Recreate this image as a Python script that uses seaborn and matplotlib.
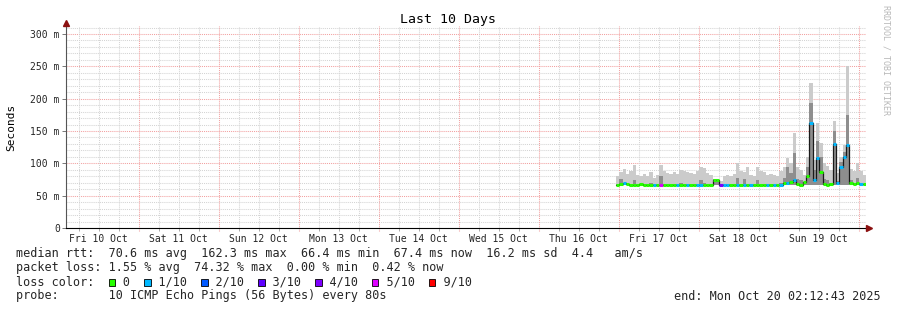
import numpy as np
import pandas as pd
import matplotlib
matplotlib.use("Agg")
import matplotlib.pyplot as plt
import matplotlib.dates as mdates
from matplotlib.patches import Rectangle
import seaborn as sns

# ---------------- data ----------------
END = pd.Timestamp("2025-10-20 02:12:43")
START = END - pd.Timedelta(days=10)
FIRST_BIN = pd.Timestamp("2025-10-16 23:12:43")   # hourly bins until END

median_ms = [67, 68, 69, 68, 67, 67, 67, 68, 67, 67,
             67, 67, 67, 67, 67, 67, 67, 67, 67, 67,
             67, 67, 67, 67, 67, 67, 67, 67, 67, 75,
             75, 67, 67, 67, 67, 67, 67, 67, 67, 67,
             67, 67, 67, 67, 67, 67, 67, 67, 67, 67,
             69, 70, 71, 74, 68, 67, 71, 80, 162, 74,
             108, 87, 68, 67, 68, 130, 70, 95, 110, 128,
             70, 68, 69, 68, 68]

rtt_min_ms = [66] * 75

smoke_mid_ms = [68, 76, 69, 68, 68, 74, 68, 68, 68, 68,
                69, 68, 68, 80, 68, 68, 68, 68, 68, 69,
                68, 68, 68, 68, 68, 74, 69, 68, 68, 76,
                76, 68, 68, 68, 68, 68, 78, 68, 76, 68,
                68, 68, 74, 68, 68, 68, 68, 68, 68, 70,
                78, 95, 85, 116, 76, 74, 70, 95, 193, 90,
                135, 110, 76, 74, 70, 150, 72, 102, 118, 175,
                74, 70, 78, 70, 68]

smoke_max_ms = [80, 87, 91, 84, 88, 97, 82, 80, 84, 80,
                87, 78, 82, 97, 88, 85, 84, 86, 83, 90,
                88, 87, 85, 84, 88, 95, 93, 85, 82, 76,
                76, 72, 80, 82, 80, 84, 100, 88, 86, 94,
                82, 80, 95, 88, 86, 82, 84, 82, 80, 88,
                95, 109, 100, 147, 95, 90, 82, 110, 225, 105,
                162, 131, 100, 96, 90, 166, 85, 110, 128, 250,
                92, 88, 100, 88, 82]

loss_of_10 = [0, 0, 1, 0, 0, 0, 0, 0, 0, 0,
              0, 1, 0, 5, 0, 0, 0, 0, 1, 0,
              0, 1, 0, 0, 1, 1, 0, 0, 0, 0,
              0, 4, 1, 1, 0, 0, 1, 0, 1, 0,
              1, 0, 0, 0, 0, 1, 0, 1, 0, 1,
              0, 1, 0, 1, 0, 0, 0, 0, 1, 1,
              1, 0, 0, 0, 0, 1, 1, 1, 1, 1,
              0, 0, 0, 1, 0]

loss_levels = [0, 1, 2, 3, 4, 5, 9]
loss_labels = ["0", "1/10", "2/10", "3/10", "4/10", "5/10", "9/10"]
loss_colors = ["#26ff00", "#00b8ff", "#0059ff", "#5e00ff", "#7e00ff", "#dd00ff", "#ff0000"]

y_ticks = [0, 50, 100, 150, 200, 250, 300]
y_ticklabels = ["0", "50 m", "100 m", "150 m", "200 m", "250 m", "300 m"]

stats_lines = [
    "median rtt:  70.6 ms avg  162.3 ms max  66.4 ms min  67.4 ms now  16.2 ms sd  4.4   am/s",
    "packet loss: 1.55 % avg  74.32 % max  0.00 % min  0.42 % now",
]
probe_text = "probe:       10 ICMP Echo Pings (56 Bytes) every 80s"
end_text = "end: Mon Oct 20 02:12:43 2025"

# ---------------- figure ----------------
sns.set_theme(style="white")
plt.rcParams["font.family"] = ["DejaVu Sans Mono", "DejaVu Sans"]

W, H = 897, 310
fig = plt.figure(figsize=(W / 100, H / 100), dpi=100)
fig.patch.set_facecolor("white")

ax_l, ax_r, ax_t, ax_b = 66, 866, 26, 228
ax = fig.add_axes([ax_l / W, 1 - ax_b / H, (ax_r - ax_l) / W, (ax_b - ax_t) / H])
ax.set_facecolor("white")

ymax = 312.4
ax.set_ylim(0, ymax)
x0 = mdates.date2num(START.to_pydatetime())
x1 = mdates.date2num(END.to_pydatetime())
ax.set_xlim(x0, x1)

# grid
for v in range(10, 320, 10):
    if v > ymax:
        break
    col = "#f2a0a0" if v % 50 == 0 else "#d4d4d4"
    ax.axhline(v, color=col, lw=0.75, ls=(0, (1, 1)), zorder=0)
for t in pd.date_range("2025-10-10 06:00", "2025-10-20 00:00", freq="6h"):
    xv = mdates.date2num(t.to_pydatetime())
    if t.hour == 0:
        ax.axvline(xv, ymin=-3 / 202, ymax=1, color="#f2a0a0", lw=0.75,
                   ls=(0, (1, 1)), zorder=0, clip_on=False)
    else:
        ax.axvline(xv, color="#d4d4d4", lw=0.75, ls=(0, (1, 1)), zorder=0)

# data
times = pd.date_range(FIRST_BIN, periods=len(median_ms), freq="h")
edges = times.append(pd.DatetimeIndex([times[-1] + pd.Timedelta(hours=1)]))
xe = mdates.date2num(edges.to_pydatetime())

def ext(a):
    return list(a) + [a[-1]]

ax.fill_between(xe, ext(rtt_min_ms), ext(smoke_max_ms), step="post",
                color="#cbcbcb", lw=0, zorder=2)
ax.fill_between(xe, ext(rtt_min_ms), ext(smoke_mid_ms), step="post",
                color="#8e8e8e", lw=0, zorder=3)

med_df = pd.DataFrame({"t": xe, "median": ext(median_ms)})
sns.lineplot(data=med_df, x="t", y="median", ax=ax, color="#1a1a1a", lw=0.9,
             drawstyle="steps-post", estimator=None, errorbar=None, zorder=4)

color_of = dict(zip(loss_levels, loss_colors))
seg_cols = [color_of[l] for l in loss_of_10]
ax.hlines(median_ms, xe[:-1], xe[1:], colors=seg_cols, lw=2.2, zorder=5,
          capstyle="butt")

# axes styling
ax.set_xlabel("")
ax.set_ylabel("")
for s in ["top", "right"]:
    ax.spines[s].set_visible(False)
ax.spines["left"].set_color("#555555")
ax.spines["left"].set_linewidth(0.8)
ax.spines["bottom"].set_color("#000000")
ax.spines["bottom"].set_linewidth(0.8)
ax.spines["left"].set_zorder(6)
ax.spines["bottom"].set_zorder(6)

ax.set_yticks(y_ticks)
ax.set_yticklabels(y_ticklabels)
ax.tick_params(axis="y", length=3, width=0.7, color="#777777", pad=1.5,
               labelsize=7, left=True)

ax.xaxis.set_major_locator(mdates.HourLocator(byhour=12))
ax.xaxis.set_major_formatter(mdates.DateFormatter("%a %d %b"))
ax.xaxis.set_minor_locator(mdates.HourLocator(byhour=[6, 18]))
ax.tick_params(axis="x", which="major", length=2, width=0.7, color="#aaaaaa",
               pad=2.5, labelsize=7, bottom=True)
ax.tick_params(axis="x", which="minor", length=2, width=0.7, color="#aaaaaa",
               bottom=True)
for lab in ax.get_xticklabels() + ax.get_yticklabels():
    lab.set_family("DejaVu Sans Mono")

# axis arrows
ax.plot([0], [1 + 3 / 202], marker="^", ms=4.5, color="#8b1010",
        transform=ax.transAxes, clip_on=False, zorder=7)
ax.plot([1 + 3 / 800], [0], marker=">", ms=4.5, color="#8b1010",
        transform=ax.transAxes, clip_on=False, zorder=7)

# texts
mono = "DejaVu Sans Mono"
fig.text(448 / W, 1 - 19 / H, "Last 10 Days", ha="center", va="center",
         fontsize=9.5, family=mono, color="#000000")
fig.text(11 / W, 1 - 127 / H, "Seconds", rotation=90, ha="center", va="center",
         fontsize=8, family=mono, color="#000000")
fig.text(886 / W, 1 - 60 / H, "RRDTOOL / TOBI OETIKER", rotation=270,
         ha="center", va="center", fontsize=6, family=mono, color="#b8b8b8")

cw = 0.6021 * 8.5 * 100 / 72
rows_y = [254, 268, 282, 296]
fig.text(16 / W, 1 - rows_y[0] / H, stats_lines[0], ha="left", va="center",
         fontsize=8.5, family=mono)
fig.text(16 / W, 1 - rows_y[1] / H, stats_lines[1], ha="left", va="center",
         fontsize=8.5, family=mono)

legend_str = "loss color:"
sq_idx = []
pos = 13
for lab in loss_labels:
    sq_idx.append(pos)
    legend_str = legend_str.ljust(pos) + "  " + lab
    pos = len(legend_str) + 2
fig.text(16 / W, 1 - rows_y[2] / H, legend_str, ha="left", va="center",
         fontsize=8.5, family=mono)
for idx, col in zip(sq_idx, loss_colors):
    xs = 16 + idx * cw + 0.5
    fig.patches.append(Rectangle((xs / W, 1 - (rows_y[2] + 3.5) / H), 6.5 / W, 6.5 / H,
                                 transform=fig.transFigure, facecolor=col,
                                 edgecolor="#000000", lw=0.6))

fig.text(16 / W, 1 - rows_y[3] / H, probe_text, ha="left", va="center",
         fontsize=8.5, family=mono)
fig.text(881 / W, 1 - rows_y[3] / H, end_text, ha="right", va="center",
         fontsize=8.5, family=mono)

fig.savefig("out.png", dpi=100, facecolor="white")
